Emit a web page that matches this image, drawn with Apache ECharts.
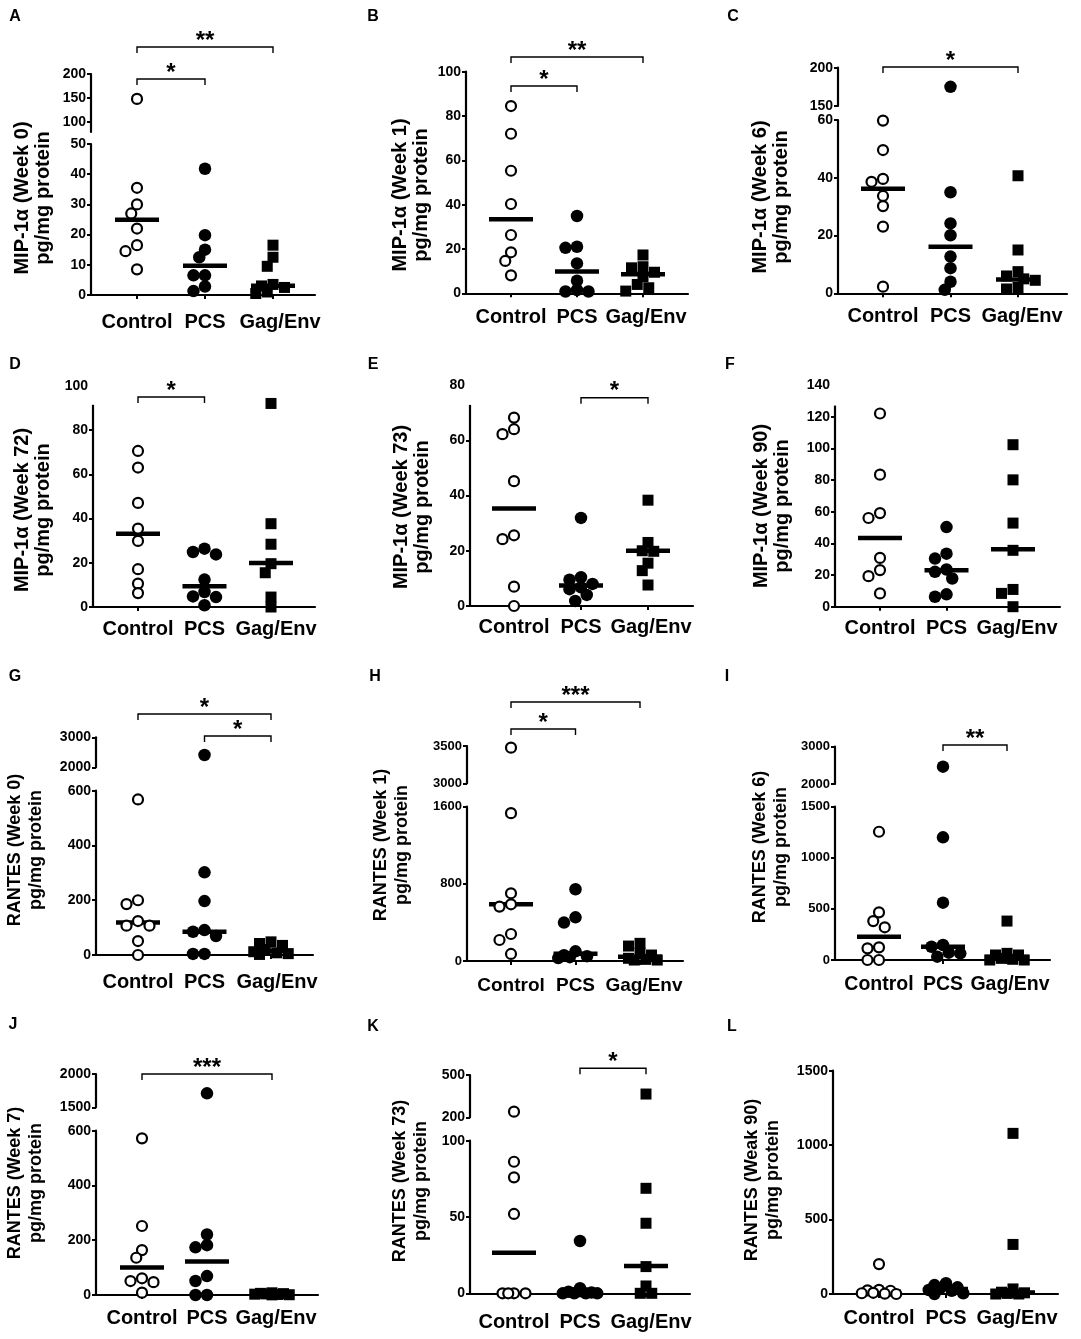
<!DOCTYPE html>
<html><head><meta charset="utf-8">
<script src="https://cdn.jsdelivr.net/npm/echarts@6/dist/echarts.min.js"></script>
<style>html,body{margin:0;padding:0;background:#fff}#c{width:1081px;height:1339px}</style>
</head><body><div id="c"></div>
<script>
// ---------------- DATA ----------------
const categories = ['Control', 'PCS', 'Gag/Env'];
const yUnit = 'pg/mg protein';
const yTitles = ['MIP-1α (Week 0)','MIP-1α (Week 1)','MIP-1α (Week 6)','MIP-1α (Week 72)','MIP-1α (Week 73)','MIP-1α (Week 90)',
                 'RANTES (Week 0)','RANTES (Week 1)','RANTES (Week 6)','RANTES (Week 7)','RANTES (Week 73)','RANTES (Weak 90)'];

const A_control = [148, 35.5, 30, 27, 22, 16.5, 14.5, 8.5];
const A_pcs     = [41.8, 19.8, 15, 12.5, 6.5, 6.5, 2.8, 1.3];
const A_gag     = [16.5, 12.5, 9.5, 3.5, 3, 2.5, 1, 0.5];
const A_median  = [24.9, 9.7, 3.1];
const A_ticksUp = [100, 150, 200];
const A_ticksLo = [0, 10, 20, 30, 40, 50];
const A_sig     = [[0, 1, '*'], [0, 2, '**']];

const B_control = [84.5, 72, 55.3, 40.3, 26.3, 18.5, 14.6, 8.1];
const B_pcs     = [34.9, 21, 20.5, 13.5, 5.7, 1.5, 0.8, 0.8];
const B_gag     = [17.3, 12, 11.5, 9.5, 7.5, 4, 2.5, 1];
const B_median  = [33.4, 9.8, 8.6];
const B_ticks   = [0, 20, 40, 60, 80, 100];
const B_sig     = [[0, 1, '*'], [0, 2, '**']];

const C_control = [59.8, 49.6, 39.6, 38.6, 33.7, 30.2, 23.1, 2.3];
const C_pcs     = [175, 35, 24.2, 20.1, 12.7, 8.7, 4, 1.2];
const C_gag     = [40.7, 15, 7.5, 6, 5, 4.5, 2, 1.5];
const C_median  = [36.2, 16.1, 4.8];
const C_ticksUp = [150, 200];
const C_ticksLo = [0, 20, 40, 60];
const C_sig     = [[0, 2, '*']];

const D_control = [70.6, 63.1, 47.1, 35.5, 29.9, 17.1, 10.6, 6.3];
const D_pcs     = [26.4, 24.9, 23.8, 12.4, 6.8, 4.8, 4.5, 0.8];
const D_gag     = [92.1, 37.7, 28.4, 19.6, 15.5, 4.5, 0];
const D_median  = [33.2, 9.4, 19.9];
const D_ticks   = [0, 20, 40, 60, 80];
const D_labels  = [0, 20, 40, 60, 80, 100];
const D_sig     = [[0, 1, '*']];

const E_control = [68.2, 64, 62.2, 45.2, 25.6, 24.2, 7, 0];
const E_pcs     = [31.9, 10.4, 9.5, 8, 6.8, 6.1, 4, 1.8];
const E_gag     = [38.3, 23, 20, 19.8, 15.5, 12.8, 7.6];
const E_median  = [35.3, 7.4, 20];
const E_ticks   = [0, 20, 40, 60];
const E_labels  = [0, 20, 40, 60, 80];
const E_sig     = [[1, 2, '*']];

const F_control = [122, 83.4, 59.1, 56, 30.8, 23.1, 19.3, 8.4];
const F_pcs     = [50.3, 33.5, 30.4, 23.5, 22, 17.8, 7.8, 6.3];
const F_gag     = [102.3, 80.1, 52.8, 35.6, 10.9, 8.4, 0];
const F_median  = [43.4, 23, 36.3];
const F_ticks   = [0, 20, 40, 60, 80, 100, 120];
const F_labels  = [0, 20, 40, 60, 80, 100, 120, 140];
const F_sig     = [];

const G_control = [568, 200, 186, 124, 107, 107, 51, 0];
const G_pcs     = [2410, 302, 197, 91, 85, 69, 4, 4];
const G_gag     = [48, 42, 35, 20, 12, 8, 5, 2];
const G_median  = [119, 85, 15];
const G_ticksUp = [2000, 3000];
const G_ticksLo = [0, 200, 400, 600];
const G_sig     = [[0, 2, '*'], [1, 2, '*']];

const H_control = [3478, 1533, 702, 588, 564, 280, 218, 73];
const H_pcs     = [744, 453, 398, 100, 60, 50, 40, 30];
const H_gag     = [183, 155, 80, 62, 28, 17, 10, 10];
const H_median  = [588, 75, 45];
const H_ticksUp = [3000, 3500];
const H_ticksLo = [0, 800, 1600];
const H_sig     = [[0, 1, '*'], [0, 2, '***']];

const I_control = [1255, 466, 381, 320, 124, 114, 0, 0];
const I_pcs     = [2464, 1200, 561, 147, 130, 72, 65, 33];
const I_gag     = [381, 65, 49, 49, 16, 7, 0, 0];
const I_median  = [228, 130, 30];
const I_ticksUp = [2000, 3000];
const I_ticksLo = [0, 500, 1000, 1500];
const I_sig     = [[1, 2, '**']];

const J_control = [572, 252, 164, 136, 61, 51, 47, 8.5];
const J_pcs     = [1710, 221, 182, 174, 69, 51, 0, 0];
const J_gag     = [8, 6, 5, 4, 3, 2, 1, 0.5];
const J_median  = [100, 122, 3];
const J_ticksUp = [1500, 2000];
const J_ticksLo = [0, 200, 400, 600];
const J_sig     = [[0, 2, '***']];

const K_control = [240, 86.2, 76, 52, 0, 0, 0, 0];
const K_pcs     = [34.3, 3.3, 1, 0.5, 0, 0, 0, 0];
const K_gag     = [365, 68.8, 45.9, 17.5, 4.8, 0, 0];
const K_median  = [26.6, 0.5, 17.9];
const K_ticksUp = [200, 500];
const K_ticksLo = [0, 50, 100];
const K_sig     = [[1, 2, '*']];

const L_control = [201, 28, 25, 22, 8, 5, 2, 0];
const L_pcs     = [72, 60, 45, 40, 27, 22, 5, 0];
const L_gag     = [1079, 333, 34, 12, 8, 4, 0, 0];
const L_median  = [15, 33, 10];
const L_ticks   = [0, 500, 1000, 1500];
const L_sig     = [];

// ---------------- LAYOUT (pixels) ----------------
const LAYOUT = {
  A:{L:91, R:315, c0:137, c2:273, up:[74,132,79,200], lo:[144,295,50], letter:[15,17], title:[32.5,198], tf:20, xf:20, yf:14, xm:17, gx:7, brY:[79,47]},
  B:{L:466,R:688, c0:511, c2:643, lo:[71.7,293.3,100], letter:[373,17], title:[411,195], tf:20, xf:20, yf:14, xm:14, gx:3, brY:[86,57]},
  C:{L:838,R:1067,c0:883, c2:1018, up:[67.7,106,150,200], lo:[120,293.3,60], letter:[733,17], title:[771,197], tf:20, xf:20, yf:14, xm:13, gx:4, brY:[67]},
  D:{L:93, R:315, c0:138, c2:271, lo:[386,607,100], lineTop:91.5, letter:[15,365], title:[32.5,510], tf:20, xf:20, yf:14, xm:12.5, gx:5, brY:[397]},
  E:{L:470,R:693, c0:514, c2:648, lo:[385,606,80], lineTop:72.8, letter:[373,365], title:[412,507], tf:20, xf:20, yf:14, xm:11, gx:3, brY:[397.7]},
  F:{L:835,R:1060,c0:880, c2:1013, lo:[385,606.7,140], lineTop:127, letter:[730,365], title:[772,506], tf:20, xf:20, yf:14, xm:12, gx:4, brY:[]},
  G:{L:96, R:313, c0:138, c2:271, up:[737.3,767.3,2000,3000], lo:[790.7,955,600], letter:[15,677], title:[26,850], tf:18, xf:20, yf:14, xm:17, gx:6, brY:[714,736]},
  H:{L:467,R:683, c0:511, c2:640, up:[746,783.3,3000,3500], lo:[806.7,961,1600], letter:[375,677], title:[392,845], tf:18, xf:19, yf:13, xm:15, gx:4, brY:[729,702]},
  I:{L:835,R:1050,c0:879, c2:1007, up:[746.7,784,2000,3000], lo:[806.7,960,1500], letter:[727,677], title:[771,847], tf:18, xf:19.5, yf:13, xm:15, gx:3, brY:[745]},
  J:{L:96, R:318, c0:142, c2:272, up:[1074,1107.3,1500,2000], lo:[1130.7,1295,600], letter:[13,1025], title:[26,1183], tf:18, xf:20, yf:14, xm:13.5, gx:4, brY:[1074]},
  K:{L:470,R:690, c0:514, c2:646, up:[1075,1117.3,200,500], lo:[1140.7,1293.3,100], letter:[373,1027], title:[411,1181], tf:18, xf:20, yf:14, xm:19, gx:5, brY:[1068.3]},
  L:{L:833,R:1058,c0:879, c2:1013, lo:[1070.7,1294,1500], letter:[732,1027], title:[763,1180], tf:18, xf:20, yf:14, xm:14.5, gx:4, brY:[]}
};

const panels = [
  {id:'A', groups:[A_control,A_pcs,A_gag], med:A_median, tUp:A_ticksUp, tLo:A_ticksLo, lLo:A_ticksLo, sig:A_sig},
  {id:'B', groups:[B_control,B_pcs,B_gag], med:B_median, tLo:B_ticks, lLo:B_ticks, sig:B_sig},
  {id:'C', groups:[C_control,C_pcs,C_gag], med:C_median, tUp:C_ticksUp, tLo:C_ticksLo, lLo:C_ticksLo, sig:C_sig},
  {id:'D', groups:[D_control,D_pcs,D_gag], med:D_median, tLo:D_ticks, lLo:D_labels, sig:D_sig},
  {id:'E', groups:[E_control,E_pcs,E_gag], med:E_median, tLo:E_ticks, lLo:E_labels, sig:E_sig},
  {id:'F', groups:[F_control,F_pcs,F_gag], med:F_median, tLo:F_ticks, lLo:F_labels, sig:F_sig},
  {id:'G', groups:[G_control,G_pcs,G_gag], med:G_median, tUp:G_ticksUp, tLo:G_ticksLo, lLo:G_ticksLo, sig:G_sig},
  {id:'H', groups:[H_control,H_pcs,H_gag], med:H_median, tUp:H_ticksUp, tLo:H_ticksLo, lLo:H_ticksLo, sig:H_sig},
  {id:'I', groups:[I_control,I_pcs,I_gag], med:I_median, tUp:I_ticksUp, tLo:I_ticksLo, lLo:I_ticksLo, sig:I_sig},
  {id:'J', groups:[J_control,J_pcs,J_gag], med:J_median, tUp:J_ticksUp, tLo:J_ticksLo, lLo:J_ticksLo, sig:J_sig},
  {id:'K', groups:[K_control,K_pcs,K_gag], med:K_median, tUp:K_ticksUp, tLo:K_ticksLo, lLo:K_ticksLo, sig:K_sig},
  {id:'L', groups:[L_control,L_pcs,L_gag], med:L_median, tLo:L_ticks, lLo:L_ticks, sig:L_sig}
];

// ---------------- BUILD ----------------
const FONT = '"Liberation Sans", Arial, Helvetica, sans-serif';
const AXW = 2.2;
const DOT = 11.5;
const option = {animation:false, backgroundColor:'#fff', textStyle:{fontFamily:FONT}, grid:[], xAxis:[], yAxis:[], series:[]};

function pyOf(Ly, v) {
  if (Ly.up && v > Ly.lo[2]) { const [t,b,mn,mx] = Ly.up; return b - (v-mn)/(mx-mn)*(b-t); }
  const [t,b,mx] = Ly.lo; return b - v/mx*(b-t);
}
// simple bounded beeswarm: horizontal offsets (px) so dots overlap as little as possible
function swarm(pys) {
  const placed = [], res = [], step = DOT*0.5, minD = DOT*0.8, maxM = 3;
  const cands = [0];
  for (let m = 1; m <= maxM; m++) { cands.push(-m*step, m*step); }
  pys.forEach(py => {
    let best = null, bestD = -1;
    for (const ox of cands) {
      const d = placed.length ? Math.min(...placed.map(q => Math.hypot(q[0]-ox, q[1]-py))) : Infinity;
      if (d >= minD) { best = ox; bestD = d; break; }
      if (d > bestD) { bestD = d; best = ox; }
    }
    placed.push([best, py]); res.push(best);
  });
  return res;
}
function yAx(gi, mn, mx, ticks, labels, showLine, fs) {
  return {gridIndex:gi, type:'value', min:mn, max:mx,
    axisLine:{show:showLine, onZero:false, lineStyle:{color:'#000', width:AXW}},
    axisTick:{show:true, customValues:ticks, length:4, lineStyle:{color:'#000', width:2}},
    axisLabel:{show:true, customValues:labels, formatter:v => String(v), color:'#000', fontFamily:FONT, fontWeight:'bold', fontSize:fs, margin:5},
    splitLine:{show:false}};
}
const symStyles = [
  {symbol:'circle', symbolSize:10, itemStyle:{color:'#fff', borderColor:'#000', borderWidth:2.2, opacity:1}},
  {symbol:'circle', symbolSize:12.5, itemStyle:{color:'#000', opacity:1}},
  {symbol:'rect', symbolSize:11, itemStyle:{color:'#000', opacity:1}}
];

panels.forEach(p => {
  const Ly = LAYOUT[p.id];
  const s = (Ly.c2 - Ly.c0) / 2;
  const xmin = -(Ly.c0 - Ly.L) / s, xmax = (Ly.R - Ly.c0) / s;
  p.xmin = xmin;
  const gLo = option.grid.length;
  p.gLo = gLo;
  const labelPos = [0, 1, 2 + Ly.gx / s];
  option.grid.push({left:Ly.L, top:Ly.lo[0], width:Ly.R-Ly.L, height:Ly.lo[1]-Ly.lo[0], containLabel:false, outerBoundsMode:'none'});
  option.xAxis.push({gridIndex:gLo, type:'value', min:xmin, max:xmax,
    axisLine:{show:true, onZero:false, lineStyle:{color:'#000', width:AXW}},
    axisTick:{show:true, customValues:[0,1,2], length:4, lineStyle:{color:'#000', width:2}},
    axisLabel:{show:true, customValues:labelPos, formatter:v => categories[Math.round(v)], color:'#000', fontFamily:FONT, fontWeight:'bold', fontSize:Ly.xf, margin:Ly.xm},
    splitLine:{show:false}});
  option.yAxis.push(yAx(gLo, 0, Ly.lo[2], p.tLo, p.lLo, !Ly.lineTop, Ly.yf));
  let gUp = null;
  if (Ly.up) {
    gUp = option.grid.length;
    option.grid.push({left:Ly.L, top:Ly.up[0], width:Ly.R-Ly.L, height:Ly.up[1]-Ly.up[0], containLabel:false, outerBoundsMode:'none'});
    option.xAxis.push({gridIndex:gUp, type:'value', min:xmin, max:xmax, show:false});
    option.yAxis.push(yAx(gUp, Ly.up[2], Ly.up[3], p.tUp, p.tUp, true, Ly.yf));
  }
  // median lines
  option.series.push({type:'scatter', xAxisIndex:gLo, yAxisIndex:gLo, clip:false, z:2, silent:true,
    symbol:'rect', symbolSize:[44,4.5], itemStyle:{color:'#000', opacity:1},
    data:p.med.map((m,i) => [i, m])});
  // points
  p.groups.forEach((vals, gi) => {
    const offs = swarm(vals.map(v => pyOf(Ly, v)));
    const lo = [], hi = [];
    vals.forEach((v, i) => {
      const pt = [gi + offs[i]/s, v];
      if (Ly.up && v > Ly.lo[2]) hi.push(pt); else lo.push(pt);
    });
    const st = symStyles[gi];
    option.series.push(Object.assign({type:'scatter', xAxisIndex:gLo, yAxisIndex:gLo, clip:false, z:3, silent:true, data:lo}, JSON.parse(JSON.stringify(st))));
    if (gUp !== null && hi.length) option.series.push(Object.assign({type:'scatter', xAxisIndex:gUp, yAxisIndex:gUp, clip:false, z:3, silent:true, data:hi}, JSON.parse(JSON.stringify(st))));
  });
});

const chart = echarts.init(document.getElementById('c'), null, {renderer:'canvas'});
chart.setOption(option);

// annotations: letters, titles, brackets, partial axis lines
const gfx = [];
panels.forEach((p, idx) => {
  const Ly = LAYOUT[p.id];
  gfx.push({type:'text', x:Ly.letter[0], y:Ly.letter[1], z:100,
    style:{text:p.id, font:'bold 16px ' + FONT, fill:'#000', align:'center', verticalAlign:'middle'}});
  gfx.push({type:'text', x:Ly.title[0], y:Ly.title[1], rotation:Math.PI/2, z:100,
    style:{text:yTitles[idx] + '\n' + yUnit, font:'bold ' + Ly.tf + 'px ' + FONT, fill:'#000', align:'center', verticalAlign:'middle', lineHeight:21}});
  p.sig.forEach((sg, k) => {
    const y = Ly.brY[k];
    const xa = chart.convertToPixel({gridIndex:p.gLo}, [sg[0], 0])[0];
    const xb = chart.convertToPixel({gridIndex:p.gLo}, [sg[1], 0])[0];
    gfx.push({type:'polyline', z:100, shape:{points:[[xa,y+6],[xa,y],[xb,y],[xb,y+6]]}, style:{stroke:'#000', lineWidth:1.4, fill:null}});
    gfx.push({type:'text', x:(xa+xb)/2, y:y-6, z:100, style:{text:sg[2], font:'bold 24px ' + FONT, fill:'#000', align:'center', verticalAlign:'middle'}});
  });
  if (Ly.lineTop) {
    const p0 = chart.convertToPixel({gridIndex:p.gLo}, [p.xmin, 0]);
    const p1 = chart.convertToPixel({gridIndex:p.gLo}, [p.xmin, Ly.lineTop]);
    gfx.push({type:'line', z:100, shape:{x1:p0[0], y1:p0[1]+1, x2:p1[0], y2:p1[1]}, style:{stroke:'#000', lineWidth:AXW}});
  }
});
chart.setOption({graphic:gfx});
</script></body></html>
